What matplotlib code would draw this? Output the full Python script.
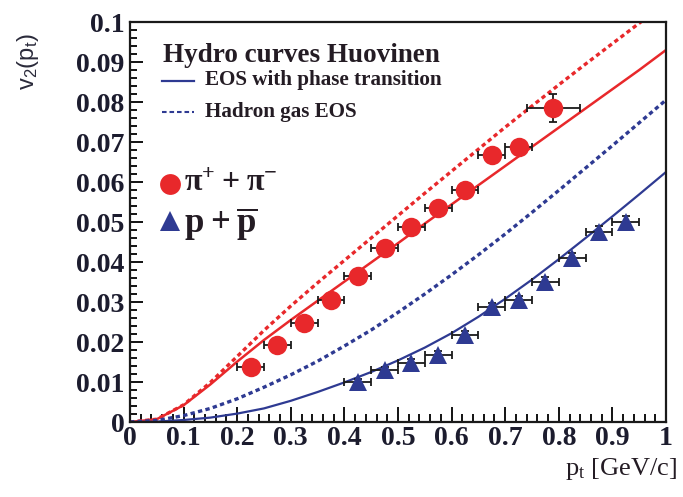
import matplotlib
matplotlib.use('Agg')
import matplotlib.pyplot as plt
from matplotlib.ticker import MultipleLocator
from matplotlib.lines import Line2D

# Pion data (pi+ + pi-)
pi_pt = [0.225, 0.275, 0.325, 0.375, 0.425, 0.475, 0.525, 0.575, 0.625, 0.675, 0.725, 0.79]
pi_v2 = [0.0138, 0.0193, 0.0248, 0.0305, 0.0365, 0.0435, 0.0488, 0.0535, 0.0580, 0.0668, 0.0688, 0.0785]
pi_xerr = [0.025, 0.025, 0.025, 0.025, 0.025, 0.025, 0.025, 0.025, 0.025, 0.025, 0.025, 0.05]
pi_yerr = [0.0008, 0.0008, 0.0008, 0.0008, 0.0008, 0.0009, 0.0009, 0.001, 0.001, 0.0012, 0.0014, 0.0035]

# Proton data (p + pbar)
p_pt = [0.425, 0.475, 0.525, 0.575, 0.625, 0.675, 0.725, 0.775, 0.825, 0.875, 0.925]
p_v2 = [0.0100, 0.0130, 0.0148, 0.0168, 0.0218, 0.0288, 0.0305, 0.0350, 0.0410, 0.0475, 0.0500]
p_xerr = [0.025] * 11
p_yerr = [0.0008, 0.0008, 0.0009, 0.0009, 0.001, 0.001, 0.0011, 0.0012, 0.0013, 0.0015, 0.0016]

# Hydro curves (Huovinen)
curve_pt = [0.0, 0.05, 0.1, 0.15, 0.2, 0.25, 0.3, 0.35, 0.4, 0.45, 0.5,
            0.55, 0.6, 0.65, 0.7, 0.75, 0.8, 0.85, 0.9, 0.95, 1.0]
pi_eos_pt = [0.0, 0.0007, 0.0042, 0.0094, 0.0151, 0.0205, 0.0255, 0.0303, 0.0351, 0.0399, 0.0447,
             0.0496, 0.0544, 0.0592, 0.0640, 0.0688, 0.0736, 0.0784, 0.0832, 0.0880, 0.0930]
pi_eos_hg = [0.0, 0.0007, 0.0043, 0.0099, 0.0164, 0.0229, 0.0290, 0.0348, 0.0404, 0.0460, 0.0516,
             0.0572, 0.0627, 0.0682, 0.0737, 0.0790, 0.0843, 0.0895, 0.0946, 0.0997, 0.1047]
p_eos_pt = [0.0, 0.0001, 0.0005, 0.0011, 0.0021, 0.0034, 0.0053, 0.0075, 0.0099, 0.0125, 0.0154,
            0.0186, 0.0222, 0.0263, 0.0308, 0.0356, 0.0407, 0.0460, 0.0514, 0.0569, 0.0625]
p_eos_hg = [0.0, 0.0004, 0.0016, 0.0034, 0.0058, 0.0087, 0.0118, 0.0152, 0.0190, 0.0230, 0.0274,
            0.0320, 0.0368, 0.0418, 0.0470, 0.0524, 0.0579, 0.0635, 0.0691, 0.0748, 0.0805]

red = '#e8282b'
blue = '#2e3a92'
ink = '#241c24'
serif = ['Liberation Serif', 'DejaVu Serif']

fig = plt.figure(figsize=(6.83, 4.97), dpi=100)
ax = fig.add_axes([130 / 683, 1 - 422 / 497, 536 / 683, 400 / 497])

ax.axhline(0, color='#f4a0a0', lw=1.2, zorder=1)

# curves
ax.plot(curve_pt, pi_eos_pt, color=red, lw=1.8, zorder=2)
ax.plot(curve_pt, pi_eos_hg, color=red, lw=2.4, linestyle=(0, (1.3, 1.0)), zorder=2)
ax.plot(curve_pt, p_eos_pt, color=blue, lw=1.6, zorder=2)
ax.plot(curve_pt, p_eos_hg, color=blue, lw=2.4, linestyle=(0, (1.3, 1.0)), zorder=2)

# data points
ax.errorbar(pi_pt, pi_v2, xerr=pi_xerr, yerr=pi_yerr, fmt='none', ecolor='#1a1a1a',
            elinewidth=1.3, capsize=3, capthick=1.3, zorder=3)
ax.plot(pi_pt, pi_v2, 'o', color=red, markersize=14, markeredgewidth=0, zorder=4)
ax.errorbar(p_pt, p_v2, xerr=p_xerr, yerr=p_yerr, fmt='none', ecolor='#1a1a1a',
            elinewidth=1.3, capsize=3, capthick=1.3, zorder=3)
ax.plot(p_pt, p_v2, '^', color=blue, markersize=13.5, markeredgewidth=0, zorder=4)

ax.set_xlim(0, 1)
ax.set_ylim(0, 0.1)
ax.xaxis.set_major_locator(MultipleLocator(0.1))
ax.xaxis.set_minor_locator(MultipleLocator(0.02))
ax.yaxis.set_major_locator(MultipleLocator(0.01))
ax.yaxis.set_minor_locator(MultipleLocator(0.002))
ax.tick_params(which='both', direction='in', top=False, right=False, width=1.3)
ax.tick_params(axis='x', which='major', length=11, pad=3)
ax.tick_params(axis='x', which='minor', length=6)
ax.tick_params(axis='y', which='major', length=9, pad=4)
ax.tick_params(axis='y', which='minor', length=5)

xt = [0, 0.1, 0.2, 0.3, 0.4, 0.5, 0.6, 0.7, 0.8, 0.9, 1]
yt = [0, 0.01, 0.02, 0.03, 0.04, 0.05, 0.06, 0.07, 0.08, 0.09, 0.1]
ax.set_xticks(xt)
ax.set_xticklabels(['0', '0.1', '0.2', '0.3', '0.4', '0.5', '0.6', '0.7', '0.8', '0.9', '1'],
                   fontfamily=serif, fontweight='bold', fontsize=20, color='#1c1c2e')
ax.set_yticks(yt)
ax.set_yticklabels(['0', '0.01', '0.02', '0.03', '0.04', '0.05', '0.06', '0.07', '0.08', '0.09', '0.1'],
                   fontfamily=serif, fontweight='bold', fontsize=20, color='#1c1c2e')
for s in ax.spines.values():
    s.set_linewidth(1.6)
    s.set_color('#1a1a1a')

# legend block
ax.text(0.062, 0.0915, 'Hydro curves Huovinen', fontfamily=serif, fontweight='bold',
        fontsize=19.5, color=ink, va='center', ha='left')
ax.add_line(Line2D([0.06, 0.12], [0.0853, 0.0853], color=blue, lw=1.6))
ax.text(0.14, 0.0855, 'EOS with phase transition', fontfamily=serif, fontweight='bold',
        fontsize=15.2, color=ink, va='center', ha='left')
ax.add_line(Line2D([0.06, 0.12], [0.0774, 0.0774], color=blue, lw=1.5, linestyle=(0, (2.2, 1.4))))
ax.text(0.14, 0.0776, 'Hadron gas EOS', fontfamily=serif, fontweight='bold',
        fontsize=15.2, color=ink, va='center', ha='left')

ax.plot([0.075], [0.0595], 'o', color=red, markersize=15, markeredgewidth=0)
ax.text(0.101, 0.0597, r'$\mathregular{\pi^{+} + \pi^{-}}$', fontsize=23, fontfamily=serif,
        fontweight='bold', color=ink, va='center', ha='left')
ax.plot([0.075], [0.0502], '^', color=blue, markersize=14, markeredgewidth=0)
ax.text(0.101, 0.0495, r'$\mathregular{p + \overline{p}}$', fontsize=25, fontfamily=serif,
        fontweight='bold', color=ink, va='center', ha='left')

# axis titles
fig.text(28 / 683, 1 - 62 / 497, r'$\mathregular{v_2(p_t)}$', rotation=90, fontsize=17,
         fontfamily='Liberation Sans', color='#2a2a3a', ha='center', va='center')
fig.text(677 / 683, 1 - 469 / 497, r'$\mathregular{p_t}$ [GeV/c]', fontsize=19,
         fontfamily=serif, color=ink, ha='right', va='center')

fig.savefig('out.png', dpi=100)
